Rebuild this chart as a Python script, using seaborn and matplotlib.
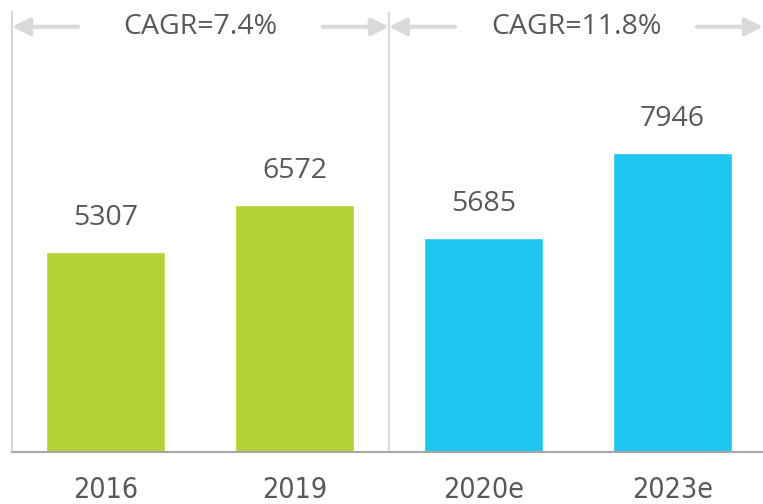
import numpy as np
import pandas as pd
import matplotlib
matplotlib.use("Agg")
import matplotlib.pyplot as plt
from matplotlib.font_manager import FontProperties
import seaborn as sns

# values
years = ["2016", "2019", "2020e", "2023e"]
values = [5307, 6572, 5685, 7946]
periods = ["hist", "hist", "fcst", "fcst"]
cagr_labels = ["CAGR=7.4%", "CAGR=11.8%"]

green = "#b2d235"
blue = "#1fc6f0"
textgrey = "#595959"
linegrey = "#d9d9d9"

sns.set_theme(style="white")
plt.rcParams['font.family'] = ['Open Sans', 'DejaVu Sans']

df = pd.DataFrame({"year": years, "value": values, "period": periods})

fig = plt.figure(figsize=(7.63, 5.04), dpi=100)
ax = fig.add_axes([12 / 763, (504 - 452) / 504, 751 / 763, 452 / 504])

sns.barplot(data=df, x="year", y="value", hue="period",
            palette={"hist": green, "fcst": blue}, dodge=False,
            width=0.63, legend=False, saturation=1, ax=ax)

ax.set_xlim(-0.495, 3.48)
ax.set_ylim(0, 12012)

# value labels above bars
for i, v in enumerate(values):
    ax.text(i, v + 900, str(v), ha="center", va="center",
            fontsize=20.5, color=textgrey)

# spines / separators
for s in ["top", "right"]:
    ax.spines[s].set_visible(False)
ax.spines["left"].set_color(linegrey)
ax.spines["left"].set_linewidth(1.5)
ax.spines["left"].set_bounds(0, 11700)
ax.spines["bottom"].set_color("#a6a6a6")
ax.spines["bottom"].set_linewidth(1.5)
ax.vlines(1.5, 0, 11700, color=linegrey, lw=1.5)

ax.set_yticks([])
ax.set_xlabel("")
ax.set_ylabel("")
ax.set_xticks(range(len(years)))
# year labels in the reference use a narrow face
narrow = FontProperties(family="DejaVu Sans", stretch="condensed", size=20.5)
ax.set_xticklabels(years, fontproperties=narrow, color=textgrey)
ax.tick_params(axis="x", length=0, pad=17)

# CAGR arrows
y_arr = 11300
arrow = dict(arrowstyle="-|>", color=linegrey, lw=3,
             mutation_scale=26, shrinkA=0, shrinkB=0)
spans = [(-0.495, 1.5), (1.5, 3.48)]
for (x0, x1), lab in zip(spans, cagr_labels):
    ax.annotate("", xy=(x0, y_arr), xytext=(x0 + 0.35, y_arr), arrowprops=arrow)
    ax.annotate("", xy=(x1, y_arr), xytext=(x1 - 0.35, y_arr), arrowprops=arrow)
    ax.text((x0 + x1) / 2, y_arr, lab, ha="center", va="center",
            fontsize=20.5, color=textgrey)

fig.savefig("out.png", dpi=100)
